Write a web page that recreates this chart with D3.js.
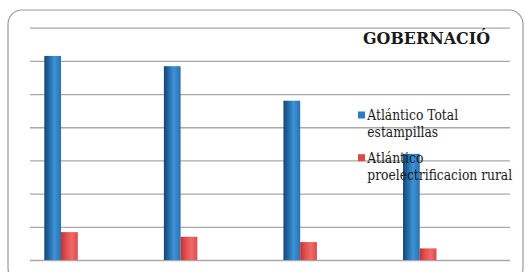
<!DOCTYPE html>
<html>
<head>
<meta charset="utf-8">
<script src="https://cdn.jsdelivr.net/npm/d3@7"></script>
<style>
body{margin:0;background:#fff;}
.axis .domain{display:none;}
.axis text{display:none;}
.axis line{stroke:#a8a8a8;stroke-width:1.3;}
.serif{font-family:'DejaVu Serif',serif;}
</style>
</head>
<body>
<div id="canvas"></div>
<script>
// data (no axis labels shown, so units are grid steps)
var categories = ['Periodo 1','Periodo 2','Periodo 3','Periodo 4'];
var totalEstampillas = [6.15, 5.84, 4.8, 3.2];
var proelectrificacion = [0.84, 0.70, 0.54, 0.35];
var yTicks = [0,1,2,3,4,5,6,7];
var seriesNames = ['Atlántico Total estampillas','Atlántico proelectrificacion rural'];
var title = 'GOBERNACIÓ';

var W = 526, H = 272;
var svg = d3.select('#canvas').append('svg')
    .attr('width',W)
    .attr('height',H);

// frame
svg.append('rect')
    .attr('x',8).attr('y',10)
    .attr('width',515).attr('height',272)
    .attr('rx',14)
    .attr('fill','none')
    .attr('stroke','#9a9a9a')
    .attr('stroke-width',1.2);

var defs = svg.append('defs');
function grad(id,stops){
    var g = defs.append('linearGradient').attr('id',id)
        .attr('x1','0%').attr('x2','100%').attr('y1','0%').attr('y2','0%');
    stops.forEach(function(s){
        g.append('stop').attr('offset',s[0]).attr('stop-color',s[1]);
    });
}
grad('gBlue',[['0%','#17456f'],['25%','#2264a0'],['60%','#3c93d6'],['100%','#2a71b2']]);
grad('gRed',[['0%','#b83434'],['30%','#e34e4e'],['65%','#f26868'],['100%','#dc4c4c']]);

var scaleY = d3.scaleLinear()
    .domain([0,7])
    .range([260,27.7]);

var scaleX = d3.scaleBand()
    .domain(categories)
    .range([44.3,436.5])
    .paddingInner(0.72)
    .paddingOuter(0);

var inner = d3.scaleBand()
    .domain([0,1])
    .range([0,scaleX.bandwidth()]);

// gridlines
var axisY = d3.axisLeft(scaleY)
    .tickValues(yTicks)
    .tickSize(-480);
svg.append('g')
    .attr('class','axis')
    .attr('transform','translate(30,0)')
    .call(axisY);

var rows = categories.map(function(c,i){
    return {cat:c, v:[totalEstampillas[i], proelectrificacion[i]]};
});

var groups = svg.selectAll('.grp')
    .data(rows)
    .enter().append('g')
    .attr('class','grp')
    .attr('transform',function(d){return 'translate(' + scaleX(d.cat) + ',0)';});

groups.selectAll('rect')
    .data(function(d){return d.v;})
    .enter().append('rect')
    .attr('x',function(d,i){return inner(i);})
    .attr('width',inner.bandwidth())
    .attr('y',function(d){return scaleY(d);})
    .attr('height',function(d){return scaleY(0)-scaleY(d);})
    .attr('fill',function(d,i){return i==0 ? 'url(#gBlue)' : 'url(#gRed)';});

// title
svg.append('text')
    .attr('class','serif')
    .attr('x',363).attr('y',43.5)
    .attr('font-weight','bold')
    .attr('font-size',17)
    .attr('fill','#1a1a1a')
    .attr('textLength',127)
    .attr('lengthAdjust','spacingAndGlyphs')
    .text(title);

// legend
var legColors = ['#2a7cc4','#e04848'];
var legLines = [['Atlántico Total','estampillas'],['Atlántico','proelectrificacion rural']];
var legY = [120, 162.7];
var leg = svg.selectAll('.leg')
    .data(seriesNames)
    .enter().append('g')
    .attr('class','leg');
leg.append('rect')
    .attr('x',358).attr('y',function(d,i){return legY[i]-8.5;})
    .attr('width',7).attr('height',7)
    .attr('fill',function(d,i){return legColors[i];});
// source font is narrower than DejaVu Serif, so squeeze horizontally
leg.append('text')
    .attr('class','serif')
    .attr('font-size',14)
    .attr('fill','#1a1a1a')
    .attr('transform','translate(367.3,0) scale(0.88,1)')
    .selectAll('tspan')
    .data(function(d,i){return legLines[i].map(function(t,j){return {t:t,y:legY[i]+j*17.3};});})
    .enter().append('tspan')
    .attr('x',0)
    .attr('y',function(d){return d.y;})
    .text(function(d){return d.t;});
</script>
</body>
</html>
